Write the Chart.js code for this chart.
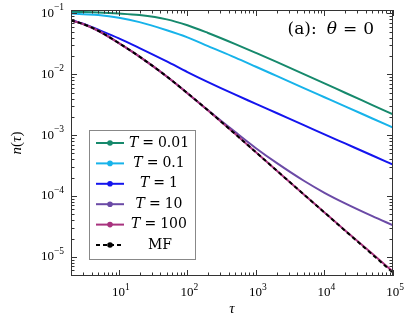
<!DOCTYPE html>
<html>
<head>
<meta charset="utf-8">
<script src="https://cdn.jsdelivr.net/npm/chart.js@4.4.1/dist/chart.umd.min.js"></script>
<style>
html, body { margin: 0; padding: 0; background: #fff; }
</style>
</head>
<body>
<canvas id="chart" width="411" height="321"></canvas>
<script>
// values (log-log)
const tau = [2, 3, 5, 10, 20, 50, 100, 200, 500, 1000, 2000, 5000, 1e4, 2e4, 5e4, 1e5];
const nT001 = [0.106, 0.1055, 0.104, 0.100, 0.094, 0.080, 0.064, 0.0478, 0.0314, 0.0225, 0.0160, 0.0101, 0.0071, 0.00498, 0.00312, 0.00219];
const nT01 = [0.0995, 0.097, 0.094, 0.085, 0.072, 0.053, 0.0405, 0.0290, 0.0188, 0.0133, 0.0094, 0.00594, 0.0042, 0.00297, 0.00188, 0.00133];
const nT1 = [0.078, 0.068, 0.054, 0.039, 0.027, 0.0163, 0.0109, 0.00745, 0.00462, 0.00327, 0.00231, 0.00146, 0.00103, 0.00073, 0.000463, 0.000327];
const nT10 = [0.077, 0.067, 0.052, 0.0325, 0.0195, 0.0092, 0.0049, 0.00256, 0.00112, 0.00061, 0.00035, 0.000178, 0.000113, 0.0000758, 0.0000467, 0.000033];
const nT100 = [0.077, 0.067, 0.052, 0.0325, 0.0195, 0.0092, 0.0049, 0.00255, 0.00104, 0.000523, 0.000263, 0.000106, 0.0000537, 0.0000272, 0.0000112, 0.0000057];
const nMF = [0.077, 0.067, 0.052, 0.0325, 0.0195, 0.0092, 0.0049, 0.00255, 0.00104, 0.000523, 0.000263, 0.000106, 0.0000535, 0.0000269, 0.0000109, 0.0000055];

const tempLabels = ['0.01', '0.1', '1', '10', '100'];
const xTickExp = [1, 2, 3, 4, 5];
const yTickExp = [-1, -2, -3, -4, -5];

const colors = ['#16896c', '#17b3ea', '#1414ee', '#6b4aa6', '#a8327e'];
const serif = '"Liberation Serif", "DejaVu Serif", serif';
const wide = '"DejaVu Serif", serif';

const pts = arr => tau.map((t, i) => ({ x: t, y: arr[i] }));
const series = [nT001, nT01, nT1, nT10, nT100];

const datasets = series.map((arr, i) => ({
    label: 'T = ' + tempLabels[i],
    data: pts(arr),
    borderColor: colors[i],
    backgroundColor: colors[i],
    borderWidth: 2,
    pointRadius: 0,
    order: 5 - i,
    cubicInterpolationMode: 'monotone'
}));
datasets.push({
    label: 'MF',
    data: pts(nMF),
    borderColor: '#000',
    backgroundColor: '#000',
    borderWidth: 2,
    borderDash: [4, 3],
    pointRadius: 0,
    order: 0,
    cubicInterpolationMode: 'monotone'
});

// parts: {t, f, dy} text pieces or {gap} blank space in px
function rich(ctx, parts, x, y, align) {
    let w = 0;
    parts.forEach(p => {
        if (p.gap) { w += p.gap; return; }
        ctx.font = p.f; w += ctx.measureText(p.t).width;
    });
    let cx = align === 'center' ? x - w / 2 : align === 'right' ? x - w : x;
    ctx.textAlign = 'left';
    ctx.textBaseline = 'middle';
    parts.forEach(p => {
        if (p.gap) { cx += p.gap; return; }
        ctx.font = p.f;
        ctx.fillText(p.t, cx, y + (p.dy || 0));
        cx += ctx.measureText(p.t).width;
    });
}

function powLabel(e) {
    return [
        { t: '10', f: '13px ' + serif },
        { t: e < 0 ? '\u2212' + (-e) : String(e), f: '9.5px ' + serif, dy: -5.5 }
    ];
}

const decor = {
    id: 'decor',
    afterDraw(chart) {
        const ctx = chart.ctx;
        const a = chart.chartArea;
        const xs = chart.scales.x, ys = chart.scales.y;
        ctx.save();
        ctx.strokeStyle = '#333';
        ctx.fillStyle = '#000';
        ctx.lineWidth = 1;
        ctx.strokeRect(a.left + 0.5, a.top + 0.5, a.right - a.left - 1, a.bottom - a.top - 1);

        // inward ticks on all four sides
        ctx.beginPath();
        for (let e = 0; e <= 5; e++) {
            for (let k = 1; k <= 9; k++) {
                const v = k * Math.pow(10, e);
                if (v < xs.min || v > xs.max) continue;
                const px = Math.round(xs.getPixelForValue(v)) + 0.5;
                const len = k === 1 ? 6 : 3.5;
                ctx.moveTo(px, a.bottom); ctx.lineTo(px, a.bottom - len);
                ctx.moveTo(px, a.top); ctx.lineTo(px, a.top + len);
            }
        }
        for (let e = -6; e <= -1; e++) {
            for (let k = 1; k <= 9; k++) {
                const v = k * Math.pow(10, e);
                if (v < ys.min || v > ys.max) continue;
                const py = Math.round(ys.getPixelForValue(v)) + 0.5;
                const len = k === 1 ? 6 : 3.5;
                ctx.moveTo(a.left, py); ctx.lineTo(a.left + len, py);
                ctx.moveTo(a.right, py); ctx.lineTo(a.right - len, py);
            }
        }
        ctx.stroke();

        // tick labels
        xTickExp.forEach(e => rich(ctx, powLabel(e), xs.getPixelForValue(Math.pow(10, e)) + 2, a.bottom + 17, 'center'));
        yTickExp.forEach(e => rich(ctx, powLabel(e), a.left - 7, ys.getPixelForValue(Math.pow(10, e)), 'right'));

        // axis titles
        rich(ctx, [{ t: '\u03c4', f: 'italic 15px ' + serif }], (a.left + a.right) / 2, 309, 'center');
        ctx.save();
        ctx.translate(17, (a.top + a.bottom) / 2);
        ctx.rotate(-Math.PI / 2);
        rich(ctx, [
            { t: 'n', f: 'italic 15px ' + serif },
            { t: '(', f: '15px ' + serif },
            { t: '\u03c4', f: 'italic 15px ' + serif },
            { t: ')', f: '15px ' + serif }
        ], 0, 0, 'center');
        ctx.restore();

        // panel title
        rich(ctx, [
            { t: '(a):', f: '17px ' + wide },
            { gap: 10 },
            { t: '\u03b8', f: 'italic 17px ' + wide },
            { gap: 6 },
            { t: '=', f: '17px ' + wide },
            { gap: 6 },
            { t: '0', f: '17px ' + wide }
        ], 374, 30, 'right');

        // legend
        const lx = 89, ly = 130, lw = 106, lh = 129;
        ctx.fillStyle = '#fff';
        ctx.fillRect(lx, ly, lw, lh);
        ctx.strokeStyle = '#888';
        ctx.strokeRect(lx + 0.5, ly + 0.5, lw, lh);
        chart.data.datasets.forEach((ds, i) => {
            const yy = 143 + i * 20.4;
            ctx.strokeStyle = ds.borderColor;
            ctx.fillStyle = ds.borderColor;
            ctx.lineWidth = 2;
            ctx.setLineDash(ds.borderDash || []);
            ctx.beginPath();
            ctx.moveTo(96, yy); ctx.lineTo(124, yy);
            ctx.stroke();
            ctx.setLineDash([]);
            ctx.beginPath();
            ctx.arc(110, yy, 2.8, 0, Math.PI * 2);
            ctx.fill();
            ctx.fillStyle = '#000';
            if (i < tempLabels.length) {
                rich(ctx, [
                    { t: 'T', f: 'italic 14px ' + wide },
                    { gap: 4 },
                    { t: '=', f: '14px ' + wide },
                    { gap: 4 },
                    { t: tempLabels[i], f: '14px ' + wide }
                ], 159, yy, 'center');
            } else {
                rich(ctx, [{ t: 'MF', f: '14px ' + wide }], 160, yy, 'center');
            }
        });
        ctx.restore();
    }
};

new Chart(document.getElementById('chart'), {
    type: 'line',
    data: { datasets: datasets },
    options: {
        responsive: false,
        animation: false,
        layout: { padding: { top: 10, right: 18, left: 0, bottom: 0 } },
        plugins: { legend: { display: false }, tooltip: { enabled: false } },
        scales: {
            x: {
                type: 'logarithmic',
                min: 2,
                max: 1e5,
                ticks: { display: false },
                grid: { display: false },
                border: { display: false },
                afterFit(scale) { scale.height = 45; }
            },
            y: {
                type: 'logarithmic',
                min: 4.84e-6,
                max: 0.114,
                ticks: { display: false },
                grid: { display: false },
                border: { display: false },
                afterFit(scale) { scale.width = 71; }
            }
        }
    },
    plugins: [decor]
});
</script>
</body>
</html>
